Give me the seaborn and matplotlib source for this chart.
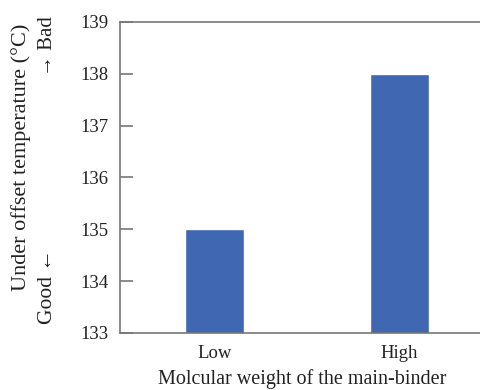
import matplotlib
matplotlib.use("Agg")
import matplotlib.pyplot as plt
import seaborn as sns
import pandas as pd

categories = ["Low", "High"]
values = [135.0, 138.0]
yticks = [133, 134, 135, 136, 137, 138, 139]

sns.set_theme(style="white")
plt.rcParams['font.family'] = ['Liberation Serif', 'DejaVu Serif']

df = pd.DataFrame({"cat": categories, "val": values})

fig = plt.figure(figsize=(4.81, 3.90), dpi=100)
W, H = 481, 390
left, right, top, bottom = 120, 481 + 11, 22, 333
ax = fig.add_axes([left / W, 1 - bottom / H, (right - left) / W, (bottom - top) / H])

sns.barplot(data=df, x="cat", y="val", color="#4068B2", saturation=1,
            width=0.32, ax=ax, bottom=0)
ax.set_ylim(133, 139)
ax.set_xlim(-0.51, 1.50)
ax.set_yticks(yticks)
ax.set_yticklabels([str(t) for t in yticks])
ax.set_xlabel("")
ax.set_ylabel("")
ax.tick_params(axis="x", length=0, pad=9, labelsize=13.5, labelcolor="#222222")
ax.tick_params(axis="y", left=True, direction="in", length=9, width=1.2,
               color="#777777", pad=8.5, labelsize=13.5, labelcolor="#222222")
for s in ["left", "bottom", "top"]:
    ax.spines[s].set_color("#777777")
    ax.spines[s].set_linewidth(1.2)
ax.spines["right"].set_visible(False)

fig.text(302 / W, 1 - 379.5 / H, "Molcular weight of the main-binder",
         ha="center", va="center", fontsize=14.5, color="#222222")
fig.text(21 / W, 1 - 157 / H, "Under offset temperature (°C)", rotation=90,
         ha="center", va="center", fontsize=16, color="#222222")
fig.text(48 / W, 1 - 287 / H, "Good ←", rotation=90,
         ha="center", va="center", fontsize=15.5, color="#222222")
fig.text(48 / W, 1 - 46 / H, "→ Bad", rotation=90,
         ha="center", va="center", fontsize=15, color="#222222")

fig.savefig("out.png", dpi=100)
